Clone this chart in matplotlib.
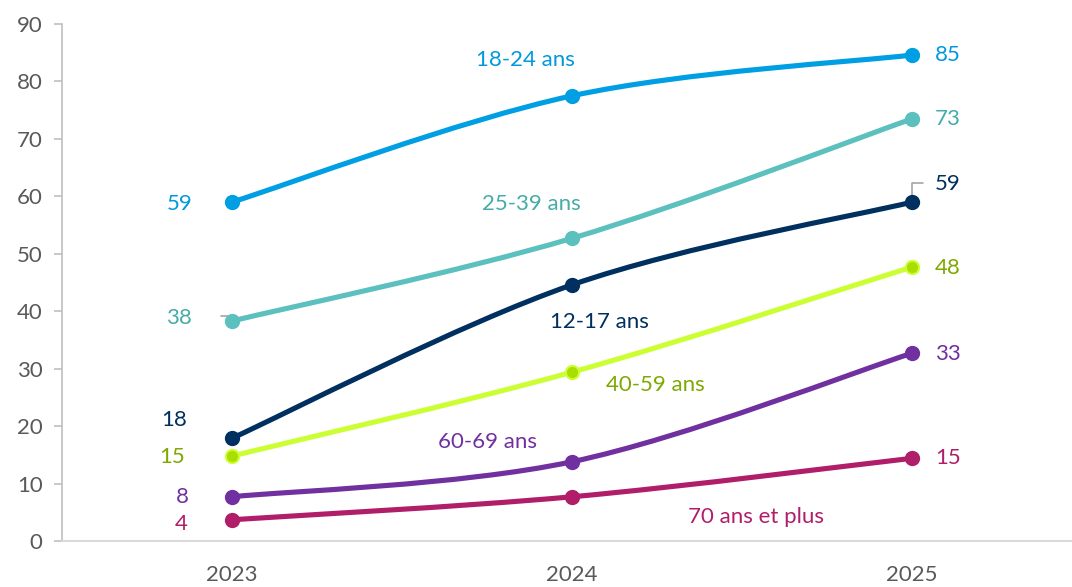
import numpy as np
import matplotlib.pyplot as plt
from matplotlib.path import Path
from matplotlib.patches import PathPatch

plt.rcParams['font.family'] = ['Lato', 'DejaVu Sans']

# Data
years = ['2023', '2024', '2025']
ages = ['18-24 ans', '25-39 ans', '12-17 ans', '40-59 ans', '60-69 ans', '70 ans et plus']
v_18_24 = [59.0, 77.5, 84.6]
v_25_39 = [38.3, 52.7, 73.5]
v_12_17 = [17.9, 44.6, 59.0]
v_40_59 = [14.8, 29.4, 47.7]
v_60_69 = [7.7, 13.8, 32.7]
v_70 = [3.7, 7.7, 14.4]
first_labels = ['59', '38', '18', '15', '8', '4']
last_labels = ['85', '73', '59', '48', '33', '15']

series = [v_18_24, v_25_39, v_12_17, v_40_59, v_60_69, v_70]
line_colors = ['#009FE3', '#5BC0BE', '#00305F', '#CCFF33', '#7030A0', '#B01E6A']
text_colors = ['#0099DD', '#45ACA8', '#00305F', '#7FA800', '#7030A0', '#B01E6A']
marker_face = ['#009FE3', '#5BC0BE', '#00305F', '#AADD00', '#7030A0', '#B01E6A']

# name label positions (data coords) and value label offsets (pixels)
name_pos = [(0.862, 83.7), (0.879, 58.7), (1.081, 38.1), (1.245, 27.1), (0.75, 17.2), (1.541, 4.1)]
left_off = [(-39, -2), (-40, 3), (-45, 18), (-47, -1), (-43, 0), (-44, -4)]
right_off = [(23, 0), (23, 0), (23, 18), (23, -1), (23, -1), (23, 0)]
FS = 16


def smooth_path(xs, ys):
    # Catmull-Rom style Bezier, like spreadsheet "smoothed line"
    pts = np.column_stack([xs, ys]).astype(float)
    n = len(pts)
    verts = [pts[0]]
    codes = [Path.MOVETO]
    for i in range(n - 1):
        p0 = pts[max(i - 1, 0)]
        p1 = pts[i]
        p2 = pts[i + 1]
        p3 = pts[min(i + 2, n - 1)]
        c1 = p1 + (p2 - p0) / 6
        c2 = p2 - (p3 - p1) / 6
        verts += [c1, c2, p2]
        codes += [Path.CURVE4] * 3
    return Path(verts, codes)


fig = plt.figure(figsize=(10.72, 5.87), dpi=100)
ax = fig.add_axes([62 / 1072, 46 / 587, 1 - 62 / 1072, 517 / 587])

x = np.arange(len(years))
for i, vals in enumerate(series):
    ax.add_patch(PathPatch(smooth_path(x, vals), facecolor='none', edgecolor=line_colors[i],
                           lw=3.7, capstyle='round', zorder=3))
    ax.plot(x, vals, 'o', ms=9.5, mfc=marker_face[i], mec=line_colors[i], mew=1.5, zorder=4)
    ax.annotate(first_labels[i], (x[0], vals[0]), xytext=left_off[i], textcoords='offset pixels',
                ha='right', va='center', fontsize=FS, color=text_colors[i])
    ax.annotate(last_labels[i], (x[-1], vals[-1]), xytext=right_off[i], textcoords='offset pixels',
                ha='left', va='center', fontsize=FS, color=text_colors[i])
    ax.text(name_pos[i][0], name_pos[i][1], ages[i], ha='center', va='center',
            fontsize=FS, color=text_colors[i])

# leader lines
ax.annotate('', (x[0], v_25_39[0]), xytext=(-14, 5), textcoords='offset pixels',
            arrowprops=dict(arrowstyle='-', color='#A6A6A6', lw=1.2, connectionstyle='angle,angleA=0,angleB=90'))
ax.annotate('', (x[-1], v_12_17[-1]), xytext=(14, 19), textcoords='offset pixels',
            arrowprops=dict(arrowstyle='-', color='#A6A6A6', lw=1.2, connectionstyle='angle,angleA=0,angleB=90'))

ax.set_xlim(-0.5, 2.47)
ax.set_ylim(0, 90)
ax.set_yticks(range(0, 91, 10))
ax.set_xticks(x)
ax.set_xticklabels(years)
ax.tick_params(axis='y', colors='#BFBFBF', length=6, width=1.2, labelcolor='#595959', labelsize=FS, pad=8)
ax.tick_params(axis='x', length=0, labelcolor='#595959', labelsize=FS, pad=17)
for s in ['top', 'right']:
    ax.spines[s].set_visible(False)
ax.spines['left'].set_color('#BFBFBF')
ax.spines['left'].set_linewidth(1.2)
ax.spines['bottom'].set_color('#D9D9D9')
ax.spines['bottom'].set_linewidth(1.5)

fig.savefig('out.png', dpi=100)
